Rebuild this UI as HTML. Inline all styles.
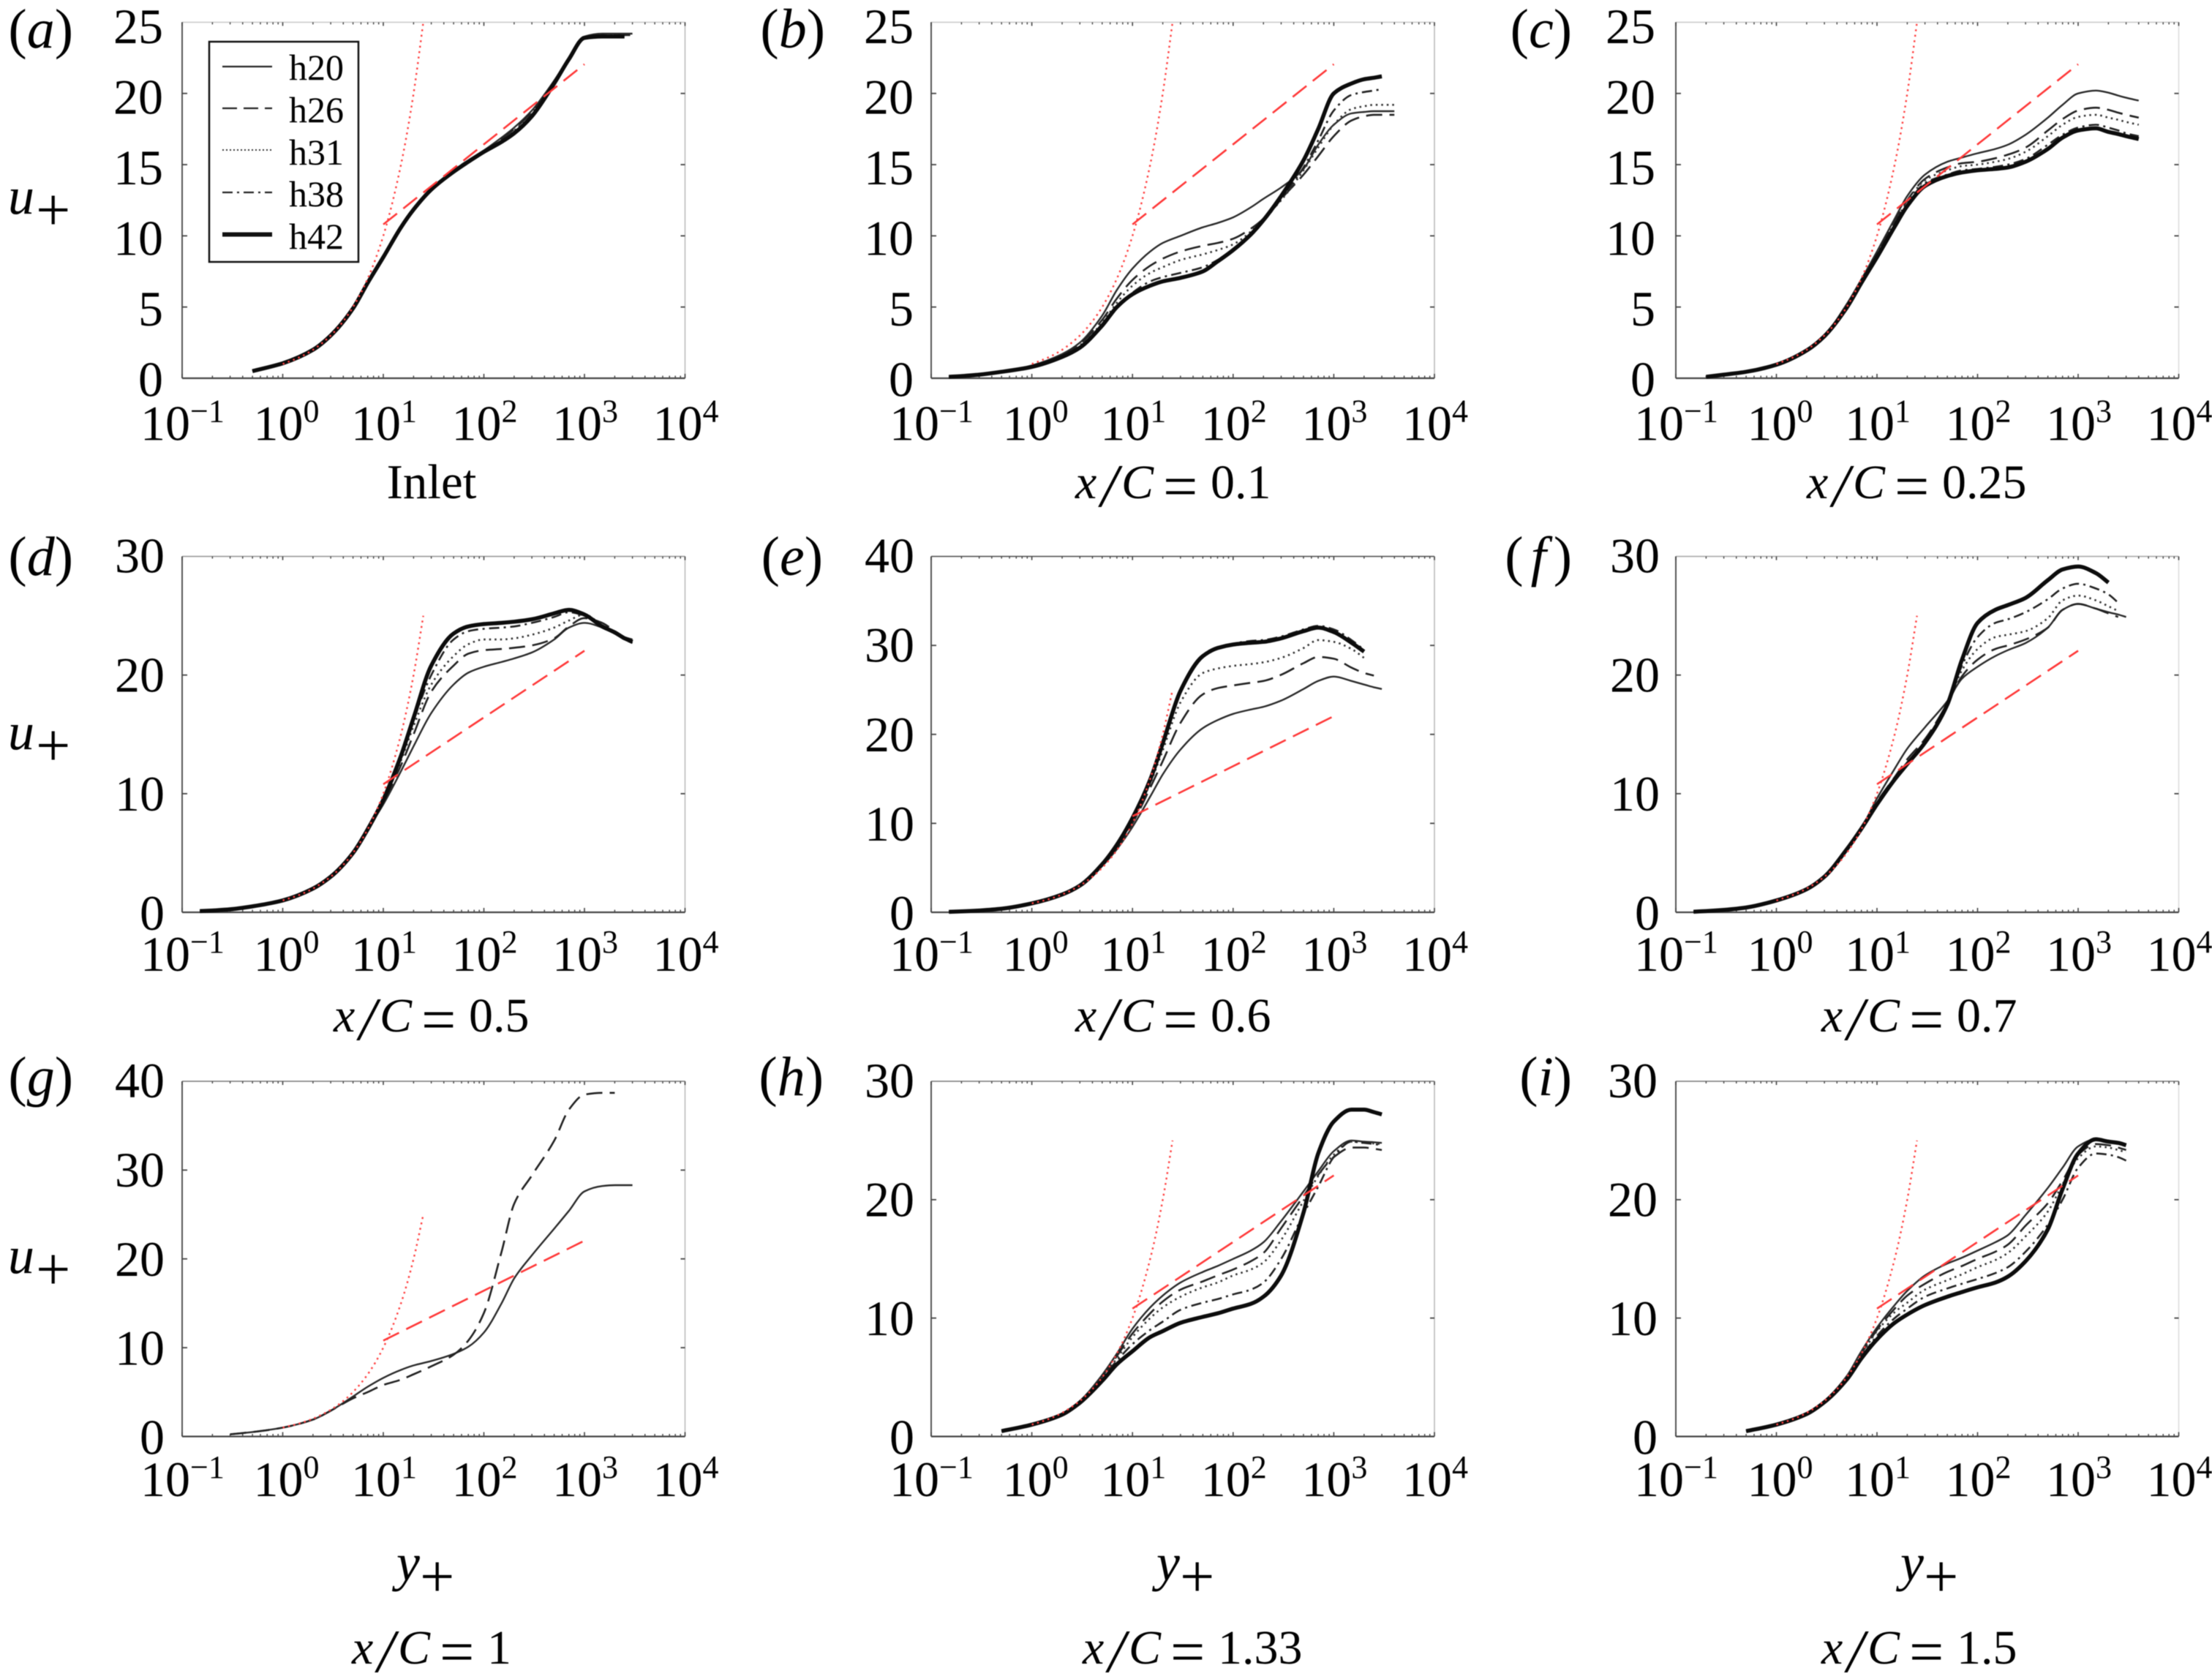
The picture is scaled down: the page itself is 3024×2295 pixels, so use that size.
<!DOCTYPE html>
<html lang="en">
<head>
<meta charset="utf-8">
<title>Mean velocity profiles</title>
<style>
html,body{margin:0;padding:0;background:#fff;}
svg{display:block;filter:blur(0.5px);}
text{font-family:"Liberation Serif",serif;fill:#000;}
.tick{font-size:68px;}
.cap{font-size:66px;}
.capn{font-size:67px;}
.it{font-style:italic;}
.sl{font-size:84px;font-style:italic;}
.eq{font-size:84px;}
.lg{font-size:50px;}
.let{font-size:76px;}
.sym{font-size:72px;font-style:italic;}
.sub{font-size:84px;}
</style>
</head>
<body>
<svg id="fig" xmlns="http://www.w3.org/2000/svg" width="3024" height="2295" viewBox="0 0 3024 2295">
<rect width="3024" height="2295" fill="#fff"/>
<g id="plots"></g>

<g>
<text class="let" x="100" y="65" text-anchor="end">(<tspan class="it">a</tspan>)</text>
<text class="let" x="1128" y="65" text-anchor="end">(<tspan class="it">b</tspan>)</text>
<text class="let" x="2149" y="65" text-anchor="end">(<tspan class="it">c</tspan>)</text>
<text class="let" x="100" y="786" text-anchor="end">(<tspan class="it">d</tspan>)</text>
<text class="let" x="1125" y="786" text-anchor="end">(<tspan class="it">e</tspan>)</text>
<text class="let" x="2149" y="786" text-anchor="end">(<tspan class="it" dx="10">f</tspan><tspan dx="10">)</tspan></text>
<text class="let" x="100" y="1497" text-anchor="end">(<tspan class="it">g</tspan>)</text>
<text class="let" x="1126" y="1497" text-anchor="end">(<tspan class="it">h</tspan>)</text>
<text class="let" x="2149" y="1497" text-anchor="end">(<tspan class="it">i</tspan>)</text>
</g>

<g>
<text x="11" y="292"><tspan class="sym">u</tspan><tspan class="sub" dx="2" dy="23">+</tspan></text>
<text x="11" y="1024"><tspan class="sym">u</tspan><tspan class="sub" dx="2" dy="23">+</tspan></text>
<text x="11" y="1740"><tspan class="sym">u</tspan><tspan class="sub" dx="2" dy="23">+</tspan></text>
</g>

<g>
<text x="542" y="2160"><tspan class="sym">y</tspan><tspan class="sub" dy="23">+</tspan></text>
<text x="1581" y="2160"><tspan class="sym">y</tspan><tspan class="sub" dy="23">+</tspan></text>
<text x="2598" y="2160"><tspan class="sym">y</tspan><tspan class="sub" dy="23">+</tspan></text>
</g>

<g>
<text class="capn" x="590" y="681" text-anchor="middle">Inlet</text>
<text class="cap" y="681"><tspan class="it" x="1470">x</tspan><tspan class="sl" x="1505" dy="11">/</tspan><tspan class="it" x="1533" dy="-11">C</tspan><tspan class="eq" x="1590" dy="12">=</tspan><tspan x="1655" dy="-12">0.1</tspan></text>
<text class="cap" y="681"><tspan class="it" x="2470">x</tspan><tspan class="sl" x="2505" dy="11">/</tspan><tspan class="it" x="2533" dy="-11">C</tspan><tspan class="eq" x="2590" dy="12">=</tspan><tspan x="2655" dy="-12">0.25</tspan></text>
<text class="cap" y="1410"><tspan class="it" x="456">x</tspan><tspan class="sl" x="491" dy="11">/</tspan><tspan class="it" x="519" dy="-11">C</tspan><tspan class="eq" x="576" dy="12">=</tspan><tspan x="641" dy="-12">0.5</tspan></text>
<text class="cap" y="1410"><tspan class="it" x="1470">x</tspan><tspan class="sl" x="1505" dy="11">/</tspan><tspan class="it" x="1533" dy="-11">C</tspan><tspan class="eq" x="1590" dy="12">=</tspan><tspan x="1655" dy="-12">0.6</tspan></text>
<text class="cap" y="1410"><tspan class="it" x="2490">x</tspan><tspan class="sl" x="2525" dy="11">/</tspan><tspan class="it" x="2553" dy="-11">C</tspan><tspan class="eq" x="2610" dy="12">=</tspan><tspan x="2675" dy="-12">0.7</tspan></text>
<text class="cap" y="2274"><tspan class="it" x="481">x</tspan><tspan class="sl" x="516" dy="11">/</tspan><tspan class="it" x="544" dy="-11">C</tspan><tspan class="eq" x="601" dy="12">=</tspan><tspan x="666" dy="-12">1</tspan></text>
<text class="cap" y="2274"><tspan class="it" x="1480">x</tspan><tspan class="sl" x="1515" dy="11">/</tspan><tspan class="it" x="1543" dy="-11">C</tspan><tspan class="eq" x="1600" dy="12">=</tspan><tspan x="1665" dy="-12">1.33</tspan></text>
<text class="cap" y="2274"><tspan class="it" x="2490">x</tspan><tspan class="sl" x="2525" dy="11">/</tspan><tspan class="it" x="2553" dy="-11">C</tspan><tspan class="eq" x="2610" dy="12">=</tspan><tspan x="2675" dy="-12">1.5</tspan></text>
</g>

<g>
<rect x="286" y="57" width="204" height="301" fill="#fff" stroke="#111" stroke-width="2.5"/>
<g><line x1="304" x2="372" y1="91" y2="91" stroke="#222" stroke-width="2.2"/><text class="lg" x="395" y="109">h20</text></g>
<g><line x1="304" x2="372" y1="148" y2="148" stroke="#222" stroke-width="2.2" stroke-dasharray="20 9"/><text class="lg" x="395" y="167">h26</text></g>
<g><line x1="304" x2="372" y1="205" y2="205" stroke="#333" stroke-width="2" stroke-dasharray="2 3"/><text class="lg" x="395" y="225">h31</text></g>
<g><line x1="304" x2="372" y1="263" y2="263" stroke="#222" stroke-width="2.2" stroke-dasharray="14 6 3 6"/><text class="lg" x="395" y="282">h38</text></g>
<g><line x1="304" x2="372" y1="320.5" y2="320.5" stroke="#111" stroke-width="6"/><text class="lg" x="395" y="340">h42</text></g>
</g>
</svg>

<script>
const n = null;
/* shared wall-distance samples */
const yPlusGrid = [0.15,0.2,0.3,0.5,1,2,3,5,7,10,15,20,30,50,70,100,150,200,300,500,700,1000,1500,2000,2500,3000,4000];
/* reference laws */
const viscousY = [1,1.5,2,3,4,5,7,10,15,20,25];
const viscousU = [1,1.5,2,3,4,5,7,10,15,20,25];
const logLawY = [10,1000];
const logLawU = [10.8,22.05];
/* tick values */
const xTickExponents = [-1,0,1,2,3,4];
const yTicks25 = [0,5,10,15,20,25];
const yTicks30 = [0,10,20,30];
const yTicks40 = [0,10,20,30,40];

/* panel a: Inlet */
const a20 = [n,n,n,.5,1.05,2,3,4.9,6.7,8.5,10.6,11.85,13.3,14.6,15.3,16,16.9,17.6,18.8,20.9,22.5,24,24.2,24.2,24.2,24.2,n];
const a26 = [n,n,n,.5,1.05,2,3,4.9,6.7,8.5,10.6,11.85,13.3,14.6,15.3,15.95,16.8,17.5,18.7,20.8,22.5,24,24.1,24.1,24.1,24.1,n];
const a31 = [n,n,n,.5,1.05,2,3,4.9,6.7,8.5,10.6,11.85,13.25,14.55,15.25,15.9,16.7,17.4,18.6,20.8,22.4,23.9,24.1,24.1,24.1,n,n];
const a38 = [n,n,n,.5,1.05,2,3,4.9,6.7,8.5,10.6,11.85,13.25,14.5,15.2,15.9,16.6,17.3,18.5,20.7,22.4,23.9,24,24,24,n,n];
const a42 = [n,n,n,.5,1.05,2,3,4.9,6.7,8.5,10.6,11.85,13.25,14.5,15.2,15.9,16.6,17.2,18.4,20.7,22.4,23.9,24,24,24,n,n];
/* panel b: x/C = 0.1 */
const b20 = [.1,.15,.25,.45,.9,1.7,2.5,4.4,6.2,7.7,8.9,9.5,10,10.6,10.9,11.3,12,12.6,13.4,14.7,16.4,17.8,18.6,18.7,18.75,18.75,18.75];
const b26 = [.1,.15,.25,.45,.85,1.6,2.4,4.1,5.6,6.9,7.9,8.4,8.9,9.3,9.5,9.8,10.5,11.2,12.6,14.3,15.6,17,18.1,18.4,18.5,18.5,18.5];
const b31 = [.1,.15,.25,.45,.85,1.6,2.3,3.9,5.3,6.5,7.4,7.8,8.3,8.7,9,9.4,10.3,11.2,12.5,14.6,16.2,17.8,18.9,19.1,19.2,19.2,19.2];
const b38 = [.1,.15,.25,.45,.8,1.55,2.2,3.8,5,6,6.8,7.1,7.4,7.8,8.3,9,10,11,12.6,14.8,16.7,18.8,19.9,20.1,20.2,20.3,n];
const b42 = [.1,.15,.25,.45,.8,1.5,2.15,3.7,5,5.9,6.5,6.8,7.05,7.5,8.2,9,10.1,11.1,12.8,15.3,17.5,20,20.7,21,21.1,21.2,n];
/* panel c: x/C = 0.25 */
const c20 = [n,.1,.25,.45,1,2,3,5.2,6.95,8.9,11.2,12.8,14.3,15.2,15.5,15.8,16.1,16.4,17.1,18.3,19.2,20,20.2,20.05,19.85,19.7,19.5];
const c26 = [n,.1,.25,.45,1,2,3,5.1,6.85,8.8,11,12.5,14,14.8,15.1,15.2,15.45,15.7,16.2,17.4,18.2,18.8,19,18.85,18.65,18.5,18.3];
const c31 = [n,.1,.25,.45,1,2,3,5,6.8,8.7,10.9,12.4,13.9,14.6,14.9,15,15.2,15.4,15.9,17,17.8,18.35,18.5,18.3,18.15,18,17.8];
const c38 = [n,.1,.25,.45,.95,1.95,3,5,6.75,8.6,10.75,12.2,13.7,14.3,14.6,14.7,14.85,15,15.4,16.4,17.1,17.6,17.8,17.6,17.4,17.2,17];
const c42 = [n,.1,.25,.45,.95,1.95,2.95,4.95,6.7,8.5,10.65,12.1,13.5,14.2,14.45,14.6,14.7,14.8,15.2,16.1,16.9,17.4,17.55,17.3,17.15,17,16.8];
/* panel d: x/C = 0.5 */
const d20 = [.1,.15,.25,.5,1,2,3,5,7,9.1,11.9,14,16.8,19.2,20.2,20.7,21.1,21.4,21.9,23,24,24.4,24,23.5,23.2,23,n];
const d26 = [.1,.15,.25,.5,1,2,3,5,7,9.3,12.4,15,18.6,20.8,21.8,22.1,22.2,22.3,22.5,23.1,24.1,24.8,24.4,23.7,23.2,22.9,n];
const d31 = [.1,.15,.25,.5,1,2,3,5,7,9.4,12.8,15.7,19.2,21.6,22.6,23,23,23.1,23.4,24,24.6,25.1,24.2,23.6,23.1,22.8,n];
const d38 = [.1,.15,.25,.5,1,2,3,5,7,9.5,13.1,16.2,20,23,23.7,23.9,24,24.1,24.4,24.9,25.3,25,24.1,23.5,23,22.7,n];
const d42 = [.1,.15,.25,.5,1,2,3,5,7,9.5,13.2,16.4,20.8,23.5,24.1,24.3,24.4,24.5,24.7,25.2,25.5,25.1,24.1,23.6,23.1,22.8,n];
/* panel e: x/C = 0.6 */
const e20 = [.05,.1,.2,.4,1,2,3,5.2,7.1,9.6,13,15.5,18.3,20.7,21.6,22.3,22.8,23.1,23.8,25.1,26,26.5,26,25.6,25.3,25.1,n];
const e26 = [.05,.1,.2,.4,1,2,3,5.3,7.3,10,14,17,21.3,24.5,25.2,25.5,25.8,26,26.7,28,28.7,28.5,27.5,26.9,26.6,n,n];
const e31 = [.05,.1,.2,.4,1,2,3,5.3,7.4,10.3,14.5,18.2,23.6,26.9,27.4,27.7,27.9,28.1,28.6,29.7,30.6,30.4,29.6,28.6,n,n,n];
const e38 = [.05,.1,.2,.4,1,2,3,5.4,7.5,10.5,14.9,18.9,24.9,28.8,29.7,30.2,30.5,30.6,31,31.8,32.2,31.8,30.6,29.5,n,n,n];
const e42 = [.05,.1,.2,.4,1,2,3,5.4,7.6,10.6,14.9,19,24.9,28.8,29.7,30.1,30.3,30.4,30.8,31.6,32,31.5,30.3,29.3,n,n,n];
/* panel f: x/C = 0.7 */
const f20 = [.05,.1,.2,.4,1,1.95,3,5.3,7.1,9.6,12.1,13.8,15.6,17.8,19.7,20.7,21.6,22.1,22.7,24,25.5,26,25.6,25.3,25.1,24.9,n];
const f26 = [.05,.1,.2,.4,1,1.95,3,5.3,7.05,9.3,11.4,12.9,14.6,17.6,19.9,21.3,22.2,22.5,23,24,25.5,26,25.6,25.2,24.9,n,n];
const f31 = [.05,.1,.2,.4,1,1.95,3,5.3,7.05,9.2,11.2,12.6,14.4,17.6,20.4,22.2,23.2,23.4,23.7,24.8,26.3,26.7,26.3,25.8,25.4,n,n];
const f38 = [.05,.1,.2,.4,1,1.95,3,5.3,7.05,9.15,11.2,12.5,14.3,17.5,20.8,23.2,24.4,24.7,25.3,26.4,27.3,27.7,27.3,26.8,26.1,n,n];
const f42 = [.05,.1,.2,.4,1,1.95,3,5.3,7.05,9.1,11.2,12.5,14.3,17.5,21.3,24.4,25.5,25.9,26.5,28,28.9,29.15,28.6,27.8,n,n,n];
/* panel g: x/C = 1 (two runs only) */
const g20 = [n,n,.25,.5,1,1.9,2.9,4.5,5.6,6.6,7.5,8,8.5,9.3,10.1,11.7,15,17.8,20.4,23.4,25.4,27.6,28.2,28.3,28.3,28.3,n];
const g26 = [n,n,.25,.5,1,1.9,2.9,4.3,5,5.8,6.4,7,7.9,9.2,10.8,13.9,20.8,26.2,29.4,33.3,36.8,38.5,38.7,38.7,n,n,n];
/* panel h: x/C = 1.33 */
const h20 = [n,n,n,.45,1,1.9,3,5.2,7,9.1,10.9,11.9,13,13.9,14.4,15,15.7,16.4,18.2,20.7,22.4,24.1,25,24.9,24.85,24.8,n];
const h26 = [n,n,n,.45,1,1.9,3,5.1,6.8,8.7,10.4,11.4,12.4,13.1,13.6,14.1,14.8,15.5,17.6,20.3,22.1,23.6,24.4,24.4,24.3,24.2,n];
const h31 = [n,n,n,.45,1,1.9,3,5,6.6,8.4,10,10.9,11.8,12.6,13,13.6,14.1,14.7,16.6,19.9,22,23.8,24.9,24.8,24.75,24.7,n];
const h38 = [n,n,n,.45,1,1.9,3,5,6.4,7.8,9,9.7,10.7,11.3,11.6,12,12.4,13,15,18.8,21.1,23.6,24.9,24.8,24.7,24.6,n];
const h42 = [n,n,n,.45,1,1.85,2.85,4.7,6.1,7.2,8.4,8.9,9.6,10.1,10.4,10.8,11.2,11.8,13.6,18.9,23.9,26.6,27.6,27.6,27.4,27.2,n];
/* panel i: x/C = 1.5 */
const i20 = [n,n,n,.45,1,1.9,3,5.1,7.2,9.2,11.1,12.3,13.6,14.6,15.1,15.7,16.4,17,18.7,21,22.7,24.5,25.1,25,24.8,24.6,n];
const i26 = [n,n,n,.45,1,1.9,3,5,7,9,10.8,11.9,12.9,13.9,14.4,15,15.6,16.2,17.8,19.7,21.6,23.8,24.7,24.6,24.4,24.2,n];
const i31 = [n,n,n,.45,1,1.9,3,5,6.9,8.9,10.5,11.3,12.4,13.2,13.7,14.3,14.9,15.5,16.9,19,21.3,23.5,24.5,24.4,24.2,24,n];
const i38 = [n,n,n,.45,1,1.9,2.9,4.9,6.7,8.5,10,10.8,11.8,12.5,12.9,13.3,13.8,14.3,15.6,17.9,20,22.7,23.9,23.8,23.6,23.3,n];
const i42 = [n,n,n,.45,1,1.9,2.9,4.8,6.6,8.2,9.6,10.3,11.1,11.8,12.2,12.6,13,13.5,14.8,17.5,20.9,23.9,25.1,24.9,24.8,24.6,n];

const NS = 'http://www.w3.org/2000/svg';
const root = document.getElementById('plots');
function mk(tag, attrs, parent) {
  const el = document.createElementNS(NS, tag);
  for (const k in attrs) el.setAttribute(k, attrs[k]);
  parent.appendChild(el);
  return el;
}
const styles = {
  h20: {stroke:'#2a2a2a', width:2.4, dash:''},
  h26: {stroke:'#222', width:2.6, dash:'22 10'},
  h31: {stroke:'#333', width:2.6, dash:'2.5 5'},
  h38: {stroke:'#222', width:2.6, dash:'14 6 3 6'},
  h42: {stroke:'#0c0c0c', width:5.5, dash:''}
};
const panels = [
  {id:'a', L:249,  R:936.5,  T:30.4, B:517,  yMax:25, yt:yTicks25, lab:223,  row:0, topC:'#ccc', rightC:'#bbb', s:{h20:a20,h26:a26,h31:a31,h38:a38,h42:a42}},
  {id:'b', L:1273, R:1961,   T:30.4, B:517,  yMax:25, yt:yTicks25, lab:1249, row:0, topC:'#ccc', rightC:'#bbb', s:{h20:b20,h26:b26,h31:b31,h38:b38,h42:b42}},
  {id:'c', L:2291, R:2978.5, T:30.4, B:517,  yMax:25, yt:yTicks25, lab:2263, row:0, topC:'#ccc', rightC:'#ddd', s:{h20:c20,h26:c26,h31:c31,h38:c38,h42:c42}},
  {id:'d', L:249,  R:936.5,  T:760.6,B:1247, yMax:30, yt:yTicks30, lab:225,  row:1, topC:'#999', rightC:'#bbb', s:{h20:d20,h26:d26,h31:d31,h38:d38,h42:d42}},
  {id:'e', L:1273, R:1961,   T:760.6,B:1247, yMax:40, yt:yTicks40, lab:1250, row:1, topC:'#555', rightC:'#bbb', s:{h20:e20,h26:e26,h31:e31,h38:e38,h42:e42}},
  {id:'f', L:2291, R:2978.5, T:760.6,B:1247, yMax:30, yt:yTicks30, lab:2269, row:1, topC:'#aaa', rightC:'#ddd', s:{h20:f20,h26:f26,h31:f31,h38:f38,h42:f42}},
  {id:'g', L:249,  R:936.5,  T:1478, B:1963.5,yMax:40, yt:yTicks40, lab:225,  row:2, topC:'#777', rightC:'#bbb', s:{h20:g20,h26:g26}},
  {id:'h', L:1273, R:1961,   T:1478, B:1963.5,yMax:30, yt:yTicks30, lab:1250, row:2, topC:'#777', rightC:'#bbb', s:{h20:h20,h26:h26,h31:h31,h38:h38,h42:h42}},
  {id:'i', L:2291, R:2978.5, T:1478, B:1963.5,yMax:30, yt:yTicks30, lab:2266, row:2, topC:'#777', rightC:'#ddd', s:{h20:i20,h26:i26,h31:i31,h38:i38,h42:i42}}
];
const xLabelBase = [601.7,1327,2045];

/* monotone cubic (PCHIP) path through screen points */
function smoothPath(pts) {
  const N = pts.length;
  if (N < 2) return '';
  const h = [], sl = [], m = [];
  for (let i = 0; i < N - 1; i++) {
    h[i] = pts[i+1][0] - pts[i][0];
    sl[i] = (pts[i+1][1] - pts[i][1]) / h[i];
  }
  m[0] = sl[0];
  m[N-1] = sl[N-2];
  for (let i = 1; i < N - 1; i++) {
    if (sl[i-1] * sl[i] <= 0) { m[i] = 0; continue; }
    const w1 = 2 * h[i] + h[i-1], w2 = h[i] + 2 * h[i-1];
    m[i] = (w1 + w2) / (w1 / sl[i-1] + w2 / sl[i]);
  }
  let d = 'M' + pts[0][0].toFixed(1) + ' ' + pts[0][1].toFixed(1);
  for (let i = 0; i < N - 1; i++) {
    const c1x = pts[i][0] + h[i] / 3, c1y = pts[i][1] + m[i] * h[i] / 3;
    const c2x = pts[i+1][0] - h[i] / 3, c2y = pts[i+1][1] - m[i+1] * h[i] / 3;
    d += 'C' + c1x.toFixed(1) + ' ' + c1y.toFixed(1) + ' ' + c2x.toFixed(1) + ' ' + c2y.toFixed(1) + ' ' + pts[i+1][0].toFixed(1) + ' ' + pts[i+1][1].toFixed(1);
  }
  return d;
}

panels.forEach(function (p) {
  const xs = function (v) { return p.L + (Math.log10(v) + 1) / 5 * (p.R - p.L); };
  const ys = function (v) { return p.B - v / p.yMax * (p.B - p.T); };
  const g = mk('g', {}, root);
  
  

  /* frame */
  const top = mk('line', {x1:p.L, x2:p.R, y1:p.T, y2:p.T, stroke:p.topC, 'stroke-width':1.6}, g);
  
  
  const right = mk('line', {x1:p.R, x2:p.R, y1:p.T, y2:p.B, stroke:p.rightC, 'stroke-width':1.6}, g);
  
  
  const left = mk('line', {x1:p.L, x2:p.L, y1:p.T, y2:p.B, stroke:'#555', 'stroke-width':2}, g);
  
  
  const bottom = mk('line', {x1:p.L, x2:p.R, y1:p.B, y2:p.B, stroke:'#444', 'stroke-width':2.2}, g);
  
  

  /* x ticks */
  xTickExponents.forEach(function (e) {
    const base = Math.pow(10, e);
    const tx = xs(base);
    [[p.B, -6], [p.T, 5]].forEach(function (v) {
      const t = mk('line', {x1:tx, x2:tx, y1:v[0], y2:v[0] + v[1], stroke:'#444', 'stroke-width':1.6}, g);
      
      
    });
    if (e < 4) {
      for (let m = 2; m <= 9; m++) {
        const mx = xs(m * base);
        [[p.B, -3.5], [p.T, 3]].forEach(function (v) {
          const t = mk('line', {x1:mx, x2:mx, y1:v[0], y2:v[0] + v[1], stroke:'#444', 'stroke-width':1.4}, g);
          
          
        });
      }
    }
    const offs = e === -1 ? -57 : (e === 0 ? -40 : -44);
    const lab = mk('text', {x:tx + offs, y:xLabelBase[p.row], class:'tick'}, g);
    
    
    lab.appendChild(document.createTextNode('10'));
    const sup = mk('tspan', {'font-size':44, dy:-25}, lab);
    sup.textContent = e < 0 ? '\u2212' + Math.abs(e) : String(e);
  });

  /* y ticks */
  p.yt.forEach(function (v) {
    const ty = ys(v);
    if (v > 0 && v < p.yMax) {
      const t1 = mk('line', {x1:p.L, x2:p.L + 7, y1:ty, y2:ty, stroke:'#444', 'stroke-width':1.8}, g);
      
      
      const t2 = mk('line', {x1:p.R, x2:p.R - 6, y1:ty, y2:ty, stroke:'#444', 'stroke-width':1.8}, g);
      
      
    }
    const drop = p.row === 0 ? 24.7 + 4 * v / p.yMax : 24 - 2 * v / p.yMax;
    const lab = mk('text', {x:p.lab, y:ty + drop, class:'tick', 'text-anchor':'end'}, g);
    
    
    lab.textContent = String(v);
  });

  /* series */
  Object.keys(p.s).forEach(function (key) {
    const vals = p.s[key];
    const pts = [];
    vals.forEach(function (u, i) {
      if (u !== null) pts.push([xs(yPlusGrid[i]), ys(u)]);
    });
    const st = styles[key];
    const line = mk('path', {d:smoothPath(pts), fill:'none', stroke:st.stroke, 'stroke-width':st.width, 'stroke-dasharray':st.dash, 'stroke-linejoin':'round'}, g);
    
    
  });

  /* reference laws */
  const visc = mk('path', {d:smoothPath(viscousY.map(function (v, i) { return [xs(v), ys(viscousU[i])]; })), fill:'none', stroke:'#ff4040', 'stroke-width':2.4, 'stroke-dasharray':'2.5 5'}, g);
  
  
  const lawD = 'M' + xs(logLawY[0]) + ' ' + ys(logLawU[0]) + 'L' + xs(logLawY[1]) + ' ' + ys(logLawU[1]);
  const law = mk('path', {d:lawD, fill:'none', stroke:'#ff3838', 'stroke-width':2.6, 'stroke-dasharray':'24 11'}, g);
  
  
});
</script>
</body>
</html>
